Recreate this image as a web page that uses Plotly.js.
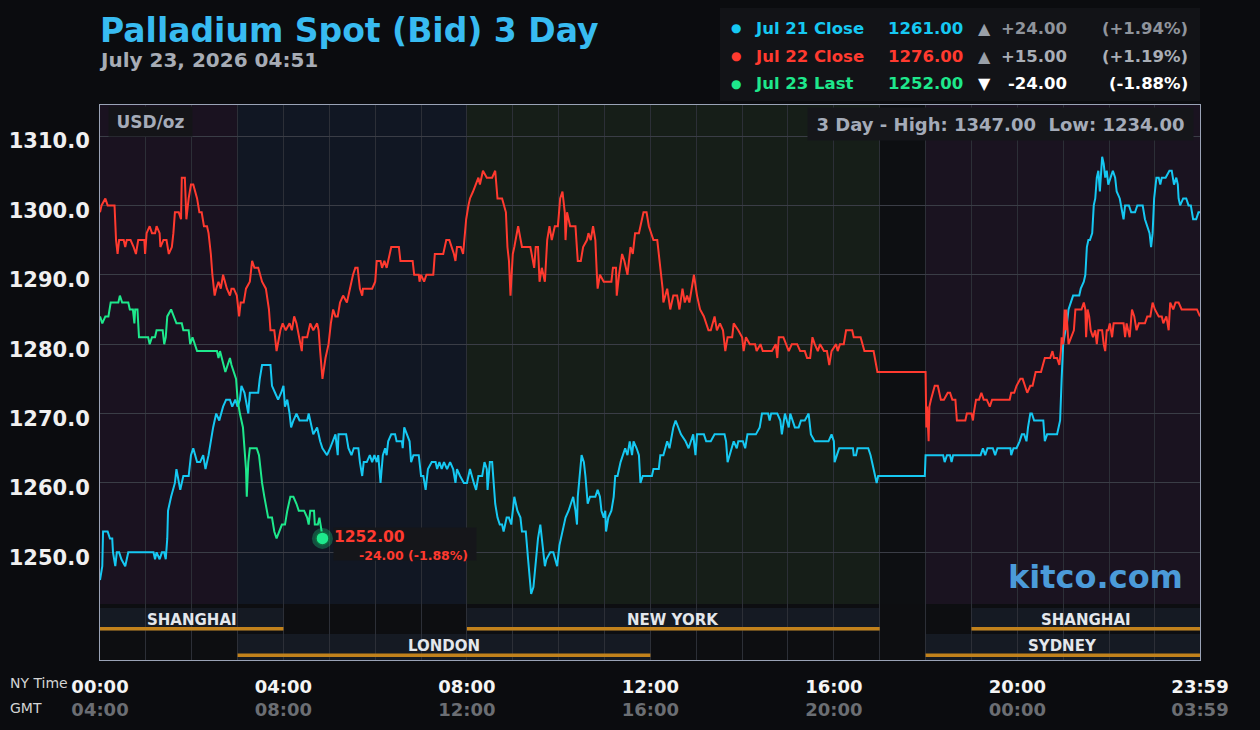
<!DOCTYPE html>
<html><head><meta charset="utf-8">
<script src="https://cdn.plot.ly/plotly-3.0.1.min.js"></script>
<style>html,body{margin:0;padding:0;background:#0b0c0f;}#chart{width:1260px;height:730px;}</style>
</head><body><div id="chart"></div>
<script>
// ---------- DATA (minutes after 00:00 NY time, USD/oz) ----------
const seriesNames = ['Jul 21 Close', 'Jul 22 Close', 'Jul 23 Last'];
const seriesColors = ['#16c8f2', '#ff3a2f', '#1ee88c'];
const closeValues = [1261.00, 1276.00, 1252.00];
const closeChanges = [24.00, 15.00, -24.00];
const closePct = [1.94, 1.19, -1.88];
const highLow = [1347.00, 1234.00];

const jul21T = [
 0,3,4,10,13,16,17,20,22,25, 28,33,37,70,72,74,78,81,84,86,
 88,89,93,96,98,100,103,105,109,116, 119,122,127,131,135,138,142,145,148,152,
 156,161,165,170,173,177,180,183,185,189, 191,194,196,207,209,212,223,225,229,233,
 237,240,242,245,248,250,253,257,261,271, 273,277,279,284,288,291,297,301,305,308,
 311,312,322,325,329,332,338,340,343,345, 349,353,356,359,362,364,367,370,373,375,
 377,381,386,388,395,396,398,401,405,407, 410,417,420,423,426,429,434,439,441,444,
 447,450,454,458,462,465,467,471,476,480, 484,489,492,495,
 500,503,506,507,510,513,515,517,520,523, 526,528,532,535,538,542,546,550,552,557,
 560,562,564,567,570,573,576,580,582,584, 589,593,596,598,601,605,609,613,616,619,
 622,624,625,628,630,633,635,638,641,648, 651,654,656,659,661,662,665,669,672,674,
 677,681,684,687,690,693,696,698,702,705, 707,710,722,724,731,733,737,742,745,747,
 750,753,757,760,766,770,773,776,779,781, 790,793,799,804,817,819,821,824,829,833,
 835,841,844,847,858,863,866,874,876,878, 886,890,892,896,898,901,903,906,909,914,
 917,922,927,930,935,953,957,960,961,964, 967,985,986,989,991,1005,1008,1012,1014,1016,
 1018,1079,
 1080,1103,1105,1108,1112,1114,1116,1152,1155,1158, 1161,1168,1171,1174,1191,1192,1195,1199,1203,1206,
 1209,1212,1214,1217,1219,1222,1234,1236,1239,1252, 1254,1256,1258,1260,1263,1265,1267,1270,1273,1281,
 1283,1287,1289,1291,1293,1295,1298,1300,1302,1304, 1306,1308,1311,1313,1315,1317,1319,1322,1325,1328,
 1330,1334,1337,1339,1341,1346,1349,1354,1357,1364, 1367,1370,1373,1375,1377,1379,1382,1385,1387,1389,
 1394,1399,1402,1405,1408,1410,1411,1413,1417,1421, 1424,1427,1430,1434,1437,1439];
const jul21V = [
 1246,1248,1253,1253,1252,1252,1250,1248,1250,1250, 1249,1248,1250,1250,1249,1250,1249,1250,1250,1249,
 1252,1256,1258,1259,1260,1262,1260,1259,1261,1261, 1264,1265,1263,1263,1264,1262,1264,1266,1268,1270,
 1269,1271,1272,1272,1271,1272,1271,1272,1274,1273, 1272,1270,1273,1273,1275,1277,1277,1274,1273,1272,
 1273,1274,1271,1272,1270,1268,1269,1270,1269,1269, 1270,1268,1267,1268,1266,1265,1264,1265,1266,1267,
 1264,1267,1267,1265,1264,1265,1265,1263,1261,1263, 1263,1264,1263,1264,1263,1264,1260,1264,1265,1264,
 1266,1267,1267,1266,1266,1265,1268,1267,1266,1263, 1264,1264,1261,1261,1259,1262,1263,1263,1262,1263,
 1262,1263,1262,1263,1262,1260,1262,1261,1260,1260, 1262,1260,1259,1261,
 1261,1263,1262,1259,1263,1263,1260,1257,1255,1254, 1254,1253,1255,1255,1254,1258,1256,1255,1253,1253,
 1249,1247,1244,1245,1249,1252,1254,1250,1248,1249, 1250,1250,1249,1248,1251,1253,1255,1256,1257,1258,
 1256,1254,1258,1262,1264,1263,1261,1257,1258,1258, 1259,1258,1256,1255,1256,1253,1255,1256,1258,1261,
 1261,1263,1264,1265,1264,1266,1264,1266,1265,1264, 1260,1261,1261,1262,1262,1264,1264,1266,1265,1266,
 1268,1269,1268,1267,1266,1265,1266,1267,1264,1267, 1267,1266,1266,1267,1267,1266,1263,1264,1266,1265,
 1266,1266,1265,1267,1267,1268,1270,1270,1269,1270, 1270,1269,1267,1270,1269,1268,1270,1269,1268,1268,
 1269,1269,1270,1267,1266,1266,1267,1266,1263,1264, 1265,1265,1264,1264,1265,1265,1264,1262,1261,1260,
 1261,1261,
 1264,1264,1263,1264,1264,1263,1264,1264,1265,1264, 1265,1265,1264,1265,1265,1264,1265,1265,1266,1267,
 1267,1266,1268,1270,1270,1269,1269,1266,1267,1267, 1268,1269,1275,1280,1282,1283,1285,1286,1287,1287,
 1288,1289,1290,1294,1295,1295,1296,1300,1301,1304, 1305,1302,1307,1306,1304,1305,1303,1304,1305,1304,
 1302,1301,1299,1298,1300,1300,1299,1299,1300,1300, 1298,1297,1296,1294,1296,1301,1304,1304,1303,1304,
 1304,1305,1305,1303,1304,1303,1301,1300,1301,1301, 1300,1300,1298,1298,1299,1299];

const jul22T = [
 0,2,7,10,19,21,23,25,31,33, 35,40,44,47,50,58,59,61,65,68,
 72,74,78,79,83,87,90,94,96,98, 103,106,107,111,113,116,119,122,127,130,
 133,136,140,142,145,147,150,152,155,158, 161,166,170,172,175,179,182,184,188,191,
 196,199,202,207,212,217,221,223,228,231, 236,239,243,248,251,254,257,261,264,265,
 271,275,279,284,286,288,291,295,299,302, 305,308,311,314,318,323,327,331,334,337,
 340,343,344,356,360,362,367,369,372,375, 379,381,391,393,409,411,417,418,420,424,
 427,436,438,449,453,457,463,465,467,472, 475,477,479,482,484,488,492,495,
 497,501,506,513,517,520,526,531,533,535, 537,540,542,547,552,563,568,570,573,575,
 578,582,585,588,591,595,599,602,605,608, 609,611,615,622,625,629,632,637,639,642,
 645,648,650,651,654,659,669,671,675,676, 679,683,686,690,694,697,700,705,711,715,
 718,724,729,733,736,737,742,746,750,755, 758,762,765,768,771,777,781,785,790,796,
 799,804,807,811,815,818,821,827,829,835, 840,842,845,850,857,859,864,867,879,884,
 886,888,894,901,905,912,916,922,925,929, 932,935,939,942,947,951,954,957,963,965,
 968,973,976,984,986,995,1000,1009,1012,1017, 1080,
 1081,1082,1084,1085,1087,1090,1092,1096,1100,1104, 1109,1112,1115,1119,1121,1132,1134,1140,1142,1143,
 1146,1150,1153,1156,1160,1164,1167,1190,1192,1196, 1199,1204,1207,1210,1213,1217,1220,1224,1231,1236,
 1243,1246,1248,1252,1255,1257,1258,1260,1262,1263, 1264,1267,1271,1274,1276,1280,1284,1287,1289,1290,
 1292,1294,1296,1299,1302,1304,1306,1311,1313,1315, 1317,1319,1321,1324,1326,1339,1341,1343,1347,1350,
 1353,1356,1359,1367,1370,1374,1377,1380,1385,1389, 1391,1395,1398,1400,1404,1407,1411,1415,1435,1439];
const jul22V = [
 1299,1300,1301,1300,1300,1295,1293,1295,1295,1294, 1295,1295,1294,1293,1295,1295,1293,1296,1297,1296,
 1296,1297,1296,1294,1295,1295,1293,1294,1296,1299, 1299,1298,1304,1304,1298,1301,1303,1303,1301,1299,
 1299,1297,1297,1296,1293,1290,1287,1288,1289,1288, 1290,1288,1287,1288,1288,1287,1284,1286,1286,1288,
 1289,1292,1291,1291,1289,1288,1285,1282,1282,1279, 1282,1283,1282,1283,1282,1284,1283,1281,1279,1281,
 1281,1283,1282,1283,1282,1279,1275,1278,1280,1283, 1285,1284,1284,1286,1287,1286,1288,1290,1291,1291,
 1288,1287,1288,1288,1289,1292,1292,1291,1292,1291, 1293,1294,1294,1292,1292,1290,1290,1289,1290,1289,
 1290,1290,1293,1293,1295,1295,1293,1292,1294,1294, 1293,1296,1298,1300,1301,1302,1303,1304,
 1303,1305,1304,1304,1305,1301,1301,1299,1294,1292, 1287,1293,1294,1297,1294,1294,1291,1294,1294,1289,
 1291,1289,1295,1297,1295,1297,1297,1301,1302,1299, 1295,1299,1297,1297,1292,1292,1294,1295,1296,1295,
 1297,1295,1290,1288,1290,1289,1289,1291,1291,1287, 1290,1293,1292,1290,1294,1293,1296,1296,1299,1299,
 1297,1295,1295,1291,1288,1286,1288,1285,1287,1287, 1285,1288,1286,1287,1286,1290,1287,1285,1284,1282,
 1282,1284,1282,1283,1282,1279,1281,1281,1283,1282, 1281,1279,1281,1280,1280,1279,1280,1279,1279,1280,
 1278,1281,1281,1279,1280,1280,1279,1279,1278,1278, 1281,1280,1279,1280,1279,1279,1277,1279,1280,1279,
 1280,1280,1282,1282,1281,1281,1279,1279,1279,1276, 1276,
 1268,1271,1266,1271,1272,1273,1274,1274,1272,1272, 1273,1273,1272,1272,1269,1269,1270,1270,1269,1270,
 1272,1272,1273,1272,1272,1271,1272,1272,1273,1273, 1274,1275,1275,1274,1273,1274,1274,1276,1276,1278,
 1278,1279,1278,1278,1277,1279,1281,1280,1285,1282, 1285,1280,1281,1282,1285,1285,1285,1286,1285,1281,
 1285,1284,1282,1281,1282,1280,1282,1282,1280,1279, 1282,1282,1283,1281,1283,1283,1281,1283,1281,1285,
 1284,1282,1283,1283,1284,1284,1286,1285,1284,1284, 1283,1284,1282,1286,1285,1286,1286,1285,1285,1284];

const jul23T = [
 0,3,7,11,14,24,26,29,37,39, 43,45,46,49,51,63,65,68,72,74,
 82,84,86,88,93,96,100,107,109,116, 118,121,124,127,153,155,157,159,164,167,
 170,172,175,178,180,183,187,189,191,192, 194,196,205,208,212,215,218,220,225,228,
 231,235,238,242,245,249,253,257,260,267, 271,273,275,280,281,285,287,290,291];
const jul23V = [
 1284,1283,1284,1284,1286,1286,1287,1286,1286,1285, 1285,1283,1285,1285,1281,1281,1280,1281,1281,1282,
 1282,1280,1281,1284,1285,1284,1283,1283,1282,1282, 1280,1281,1280,1279,1279,1278,1279,1278,1276,1277,
 1278,1277,1276,1275,1272,1270,1268,1265,1262,1258, 1263,1265,1265,1264,1260,1258,1256,1255,1255,1253,
 1252,1253,1254,1254,1256,1258,1258,1257,1256,1256, 1255,1254,1256,1256,1254,1254,1255,1253,1252];

// axis ticks
const tickMin = [0, 240, 480, 720, 960, 1200, 1439];
const nyTicks = ['00:00', '04:00', '08:00', '12:00', '16:00', '20:00', '23:59'];
const gmtTicks = ['04:00', '08:00', '12:00', '16:00', '20:00', '00:00', '03:59'];
const yTicks = [1250, 1260, 1270, 1280, 1290, 1300, 1310];

// background session tints and market session bars
const bandStart = [0, 180, 480, 1020, 1080];
const bandEnd = [180, 480, 1020, 1080, 1439];
const bandColor = ['#1a1220', '#111723', '#161e18', '#0d0f12', '#1a1320'];
const sessionNames = ['SHANGHAI', 'LONDON', 'NEW YORK', 'SYDNEY', 'SHANGHAI'];
const sessionStart = [0, 180, 480, 1080, 1140];
const sessionEnd = [240, 720, 1020, 1439, 1439];
const sessionRow = [0, 1, 0, 1, 0];

// ---------- LAYOUT HELPERS ----------
const PX = p => (p - 100) / 1100;   // page px -> paper x
const PY = p => (660 - p) / 555;    // page px -> paper y
const F = 'DejaVu Sans';
const fmt = v => v.toFixed(2);

const series = [[jul21T, jul21V], [jul22T, jul22V], [jul23T, jul23V]];
const traces = series.map((s, i) => ({
  type: 'scatter', mode: 'lines', x: s[0], y: s[1],
  line: {color: seriesColors[i], width: 2, shape: 'linear'}, hoverinfo: 'skip', showlegend: false
}));
const lastT = jul23T[jul23T.length - 1], lastV = jul23V[jul23V.length - 1];
traces.push({type: 'scatter', mode: 'markers', x: [lastT], y: [lastV], hoverinfo: 'skip', showlegend: false,
  marker: {size: 21, color: 'rgba(30,232,140,0.28)'}});
traces.push({type: 'scatter', mode: 'markers', x: [lastT], y: [lastV], hoverinfo: 'skip', showlegend: false,
  marker: {size: 13, color: '#1ee88c', line: {color: '#0f6b40', width: 1.5}}});

const shapes = [];
bandStart.forEach((s, i) => shapes.push({type: 'rect', layer: 'below', xref: 'x', yref: 'paper',
  x0: s, x1: bandEnd[i], y0: PY(604), y1: 1, fillcolor: bandColor[i], line: {width: 0}}));
const rowBar = [[PY(631), PY(608)], [PY(660), PY(634)]];
const rowLine = [[PY(630.5), PY(627)], [PY(657), PY(653.5)]];
const rowText = [PY(620), PY(646)];
sessionNames.forEach((n, i) => {
  const r = sessionRow[i];
  shapes.push({type: 'rect', layer: 'below', xref: 'x', yref: 'paper', x0: sessionStart[i], x1: sessionEnd[i],
    y0: rowBar[r][0], y1: rowBar[r][1], fillcolor: '#151a23', line: {width: 0}});
  shapes.push({type: 'rect', layer: 'above', xref: 'x', yref: 'paper', x0: sessionStart[i], x1: sessionEnd[i],
    y0: rowLine[r][0], y1: rowLine[r][1], fillcolor: '#c2821c', line: {width: 0}});
});
// legend panel
shapes.push({type: 'rect', layer: 'below', xref: 'paper', yref: 'paper', x0: PX(720), x1: PX(1200),
  y0: PY(101), y1: PY(8), fillcolor: '#121317', line: {width: 0}});

const ann = [];
ann.push({xref: 'paper', yref: 'paper', x: PX(97), y: PY(60), xanchor: 'left', yanchor: 'middle', showarrow: false,
  text: 'July 23, 2026 04:51', font: {family: F, size: 20, color: '#a7acb5', weight: 700}});
sessionNames.forEach((n, i) => ann.push({xref: 'x', yref: 'paper', x: (sessionStart[i] + sessionEnd[i]) / 2,
  y: rowText[sessionRow[i]], xanchor: 'center', yanchor: 'middle', showarrow: false, text: n,
  font: {family: F, size: 15, color: '#e4e7ec', weight: 700}}));
// legend rows
const rowY = [28, 56, 84];
const chgColors = ['#8f949c', '#a9aeb6', '#ffffff'];
seriesNames.forEach((n, i) => {
  const y = PY(rowY[i]);
  const base = {xref: 'paper', yref: 'paper', y: y, yanchor: 'middle', showarrow: false};
  ann.push(Object.assign({}, base, {x: PX(736), xanchor: 'center', text: '●', font: {family: F, size: 12, color: seriesColors[i]}}));
  ann.push(Object.assign({}, base, {x: PX(753), xanchor: 'left', text: n, font: {family: F, size: 16.5, color: seriesColors[i], weight: 700}}));
  ann.push(Object.assign({}, base, {x: PX(886), xanchor: 'left', text: fmt(closeValues[i]), font: {family: F, size: 16.5, color: seriesColors[i], weight: 700}}));
  ann.push(Object.assign({}, base, {x: PX(984), xanchor: 'center', text: closeChanges[i] >= 0 ? '▲' : '▼', font: {family: F, size: 16, color: closeChanges[i] >= 0 ? '#9aa0a8' : '#ffffff'}}));
  ann.push(Object.assign({}, base, {x: PX(1069), xanchor: 'right', text: (closeChanges[i] >= 0 ? '+' : '') + fmt(closeChanges[i]), font: {family: F, size: 16.5, color: chgColors[i], weight: 700}}));
  ann.push(Object.assign({}, base, {x: PX(1190), xanchor: 'right', text: '(' + (closePct[i] >= 0 ? '+' : '') + fmt(closePct[i]) + '%)', font: {family: F, size: 16.5, color: chgColors[i], weight: 700}}));
});
// info boxes
ann.push({xref: 'paper', yref: 'paper', x: PX(108), y: PY(121.5), xanchor: 'left', yanchor: 'middle', showarrow: false,
  width: 83, height: 29, borderpad: 0, bgcolor: '#141418', text: 'USD/oz', align: 'center',
  font: {family: F, size: 17, color: '#a4abb8', weight: 700}});
ann.push({xref: 'paper', yref: 'paper', x: PX(807), y: PY(124), xanchor: 'left', yanchor: 'middle', showarrow: false,
  width: 385, height: 32, borderpad: 0, bgcolor: '#15161a', align: 'center',
  text: '3 Day - High: ' + fmt(highLow[0]) + '&nbsp;&nbsp;Low: ' + fmt(highLow[1]),
  font: {family: F, size: 18, color: '#a4abb8', weight: 700}});
ann.push({xref: 'paper', yref: 'paper', x: PX(1185), y: PY(577), xanchor: 'right', yanchor: 'middle', showarrow: false,
  text: 'kitco.com', font: {family: F, size: 32, color: '#4b9bd9', weight: 700}});
// last price tag
ann.push({xref: 'x', yref: 'y', x: lastT, y: lastV, xanchor: 'left', yanchor: 'middle', xshift: 11, yshift: -6,
  showarrow: false, width: 142, height: 32, borderpad: 0, bgcolor: '#15161a', align: 'left', valign: 'top',
  text: fmt(lastV), font: {family: F, size: 15.5, color: '#ff3a2f', weight: 700}});
ann.push({xref: 'x', yref: 'y', x: lastT, y: lastV, xanchor: 'right', yanchor: 'middle', xshift: 148, yshift: -17,
  showarrow: false, text: fmt(closeChanges[2]) + ' (' + fmt(closePct[2]) + '%)',
  font: {family: F, size: 12.5, color: '#ff3a2f', weight: 700}});
// time-zone captions
ann.push({xref: 'paper', yref: 'paper', x: PX(8), y: PY(683), xanchor: 'left', yanchor: 'middle', showarrow: false,
  text: 'NY Time', font: {family: F, size: 14, color: '#d4d4d4'}});
ann.push({xref: 'paper', yref: 'paper', x: PX(8), y: PY(708), xanchor: 'left', yanchor: 'middle', showarrow: false,
  text: 'GMT', font: {family: F, size: 14, color: '#d4d4d4'}});

// x ticks: hourly grid, labels every 4 h
const xTickVals = [], xTickText = [];
for (let h = 0; h < 24; h++) {
  const m = h * 60; const k = tickMin.indexOf(m);
  xTickVals.push(m);
  xTickText.push(k >= 0 ? nyTicks[k] + '<br><span style="color:#6b6e73">' + gmtTicks[k] + '</span>' : '');
}
xTickVals.push(tickMin[6]);
xTickText.push(nyTicks[6] + '<br><span style="color:#6b6e73">' + gmtTicks[6] + '</span>');

const layout = {
  width: 1260, height: 730,
  margin: {l: 100, r: 60, t: 105, b: 70, autoexpand: false},
  paper_bgcolor: '#0b0c0f', plot_bgcolor: '#0d0e11',
  showlegend: false,
  title: {text: 'Palladium Spot (Bid) 3 Day', xref: 'container', x: 100 / 1260, xanchor: 'left',
    yref: 'container', y: 1 - 30 / 730, yanchor: 'middle',
    font: {family: F, size: 33, color: '#38bbf1', weight: 700}},
  xaxis: {range: [0, 1439], tickmode: 'array', tickvals: xTickVals, ticktext: xTickText,
    showgrid: true, gridcolor: '#2c2f37', gridwidth: 1, zeroline: false,
    showline: true, mirror: true, linecolor: '#9aa3b6', linewidth: 1,
    ticks: '', ticklabelstandoff: 10, automargin: false, fixedrange: true,
    tickfont: {family: F, size: 18, color: '#f4f4f4', weight: 700}},
  yaxis: {range: [1234.48, 1314.47], tickmode: 'array', tickvals: yTicks, ticktext: yTicks.map(v => v.toFixed(1)),
    showgrid: true, gridcolor: '#3a3d46', gridwidth: 1, zeroline: false,
    showline: true, mirror: true, linecolor: '#9aa3b6', linewidth: 1,
    ticks: '', ticklabelstandoff: 5, ticklabelshift: 5, automargin: false, fixedrange: true,
    tickfont: {family: F, size: 21, color: '#f0f0f0', weight: 700}},
  shapes: shapes, annotations: ann
};
Plotly.newPlot('chart', traces, layout, {displayModeBar: false, staticPlot: true});
</script></body></html>
